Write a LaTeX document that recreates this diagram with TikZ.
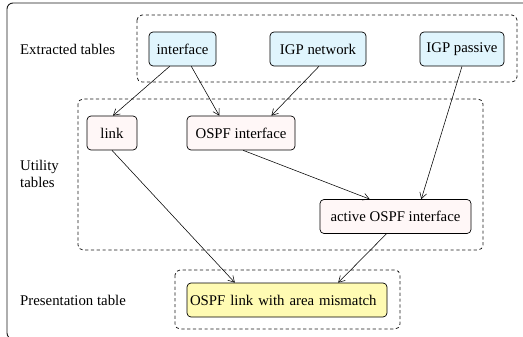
\documentclass[tikz,border=0pt]{standalone}
\usepackage{fontspec}
\setmainfont{Liberation Serif}
\usetikzlibrary{arrows.meta,calc}
\begin{document}
\begin{tikzpicture}[x=1pt,y=-1pt,
  every node/.style={font=\fontsize{14.8}{17}\selectfont},
  tbl/.style={draw=black, rounded corners=4pt, line width=0.7pt, inner sep=0pt, minimum height=34pt},
  extr/.style={tbl, fill=cyan!12!white},
  util/.style={tbl, fill=red!3!white},
  pres/.style={tbl, fill=yellow!30!white},
  grp/.style={draw=black!90, dash pattern=on 3.2pt off 2.6pt, rounded corners=5pt, line width=0.75pt},
  lbl/.style={anchor=west, align=left, inner sep=0pt},
  conn/.style={-{Straight Barb[length=6pt,width=7pt]}, line width=0.55pt}]
\useasboundingbox (0,0) rectangle (523,337);
% outer frame (clipped)
\begin{scope}
\clip (0,0) rectangle (523,337);
\draw[line width=0.9pt, black!90, rounded corners=6pt] (7,3) rectangle (540,339);
\end{scope}
% group boxes
\draw[grp] (137,15) rectangle (517,82);
\draw[grp] (78,99) rectangle (483,250);
\draw[grp] (175,270) rectangle (400,329);
% group labels
\node[lbl] (lext) at (20,49) {Extracted tables};
\node[lbl] (lutil) at (20,173.5) {Utility\\tables};
\node[lbl] (lpres) at (20,300) {Presentation table};
% nodes
\node[extr, minimum width=67pt] (iface) at (182.5,49) {interface};
\node[extr, minimum width=96pt] (igpn) at (318,49) {IGP network};
\node[extr, minimum width=84pt] (igpp) at (462,49) {IGP passive};
\node[util, minimum width=50pt] (link) at (112,133) {link};
\node[util, minimum width=108pt] (ospfi) at (241,133) {OSPF interface};
\node[util, minimum width=151pt] (active) at (395.5,216.5) {active OSPF interface};
\node[pres, minimum width=200pt, text width=194pt, inner xsep=3pt, align=left] (olink) at (287,300) {OSPF link with area mismatch};
% connectors
\draw[conn] ($(iface.south west)!0.31!(iface.south east)$) -- ($(link.north west)!0.52!(link.north east)$);
\draw[conn] ($(iface.south west)!0.63!(iface.south east)$) -- ($(ospfi.north west)!0.30!(ospfi.north east)$);
\draw[conn] ($(igpn.south west)!0.51!(igpn.south east)$) -- ($(ospfi.north west)!0.78!(ospfi.north east)$);
\draw[conn] ($(igpp.south west)!0.5!(igpp.south east)$) -- ($(active.north west)!0.67!(active.north east)$);
\draw[conn] ($(ospfi.south west)!0.52!(ospfi.south east)$) -- ($(active.north west)!0.33!(active.north east)$);
\draw[conn] ($(link.south west)!0.5!(link.south east)$) -- ($(olink.north west)!0.24!(olink.north east)$);
\draw[conn] ($(active.south west)!0.44!(active.south east)$) -- ($(olink.north west)!0.755!(olink.north east)$);
\end{tikzpicture}
\end{document}
